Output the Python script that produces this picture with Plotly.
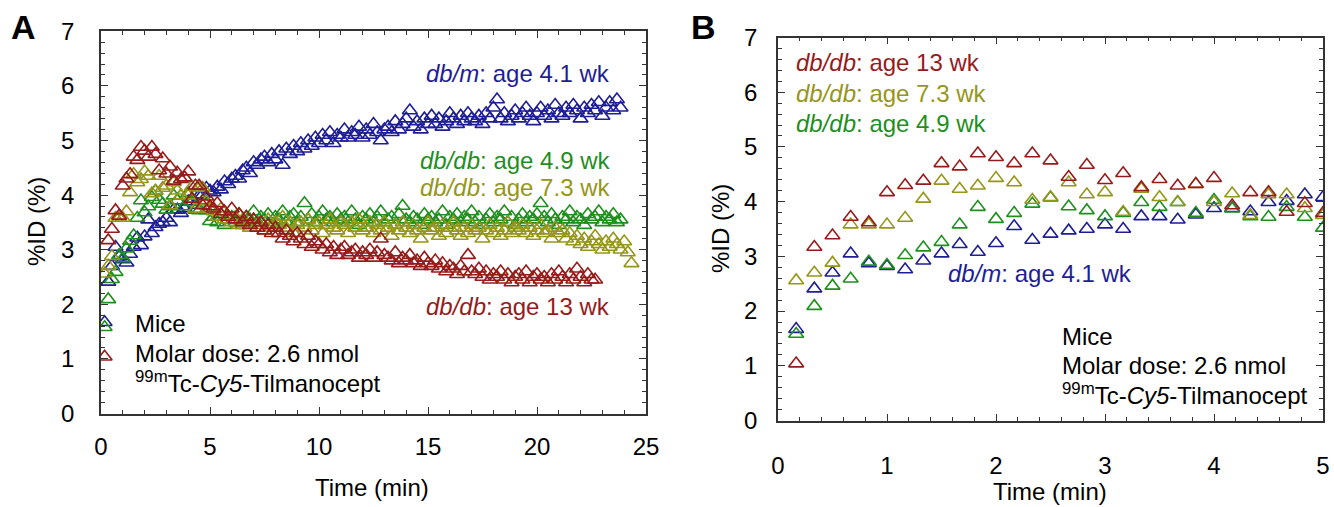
import plotly.graph_objects as go

# ---------------- data ----------------
# Panel B: first 5 min, one frame every 10 s (t = k/6 min, k = 1..30)
b_time = [k / 6 for k in range(1, 31)]
b_dbdb13 = [1.04, 3.17, 3.38, 3.72, 3.62, 4.17, 4.30, 4.38, 4.70, 4.64,
            4.88, 4.81, 4.70, 4.88, 4.75, 4.45, 4.67, 4.39, 4.52, 4.26,
            4.41, 4.29, 4.32, 4.43, 3.93, 4.17, 4.17, 3.81, 3.97, 3.79]
b_dbdb73 = [2.56, 2.70, 2.88, 3.58, 3.58, 3.58, 3.70, 4.05, 4.38, 4.23,
            4.29, 4.43, 4.35, 4.03, 4.08, 4.35, 4.13, 4.17, 3.81, 4.23,
            4.08, 3.99, 4.32, 3.99, 4.15, 3.75, 4.13, 4.13, 3.88, 3.75]
b_dbdb49 = [1.58, 2.09, 2.46, 2.59, 2.90, 2.84, 3.02, 3.16, 3.26, 3.58,
            3.90, 3.68, 3.79, 3.96, 4.07, 3.91, 3.84, 3.73, 3.79, 3.99,
            3.90, 3.99, 3.79, 4.03, 3.87, 3.73, 3.72, 3.90, 3.72, 3.52]
b_dbm41 = [1.67, 2.41, 2.70, 3.05, 2.87, 2.82, 2.76, 2.92, 3.05, 3.22,
           3.08, 3.24, 3.55, 3.30, 3.41, 3.47, 3.50, 3.58, 3.50, 3.73,
           3.73, 3.67, 3.76, 3.88, 3.88, 3.82, 3.99, 4.01, 4.13, 4.08]

# Panel A: the same acquisitions continued to ~24 min (values after 5 min)
a_dbm41_tail = [4.05, 4.15, 4.1, 4.25, 4.2, 4.3,
                4.35, 4.3, 4.45, 4.5, 4.4, 4.6,
                4.55, 4.65, 4.7, 4.6, 4.75, 4.65,
                4.8, 4.55, 4.85, 4.75, 4.9, 4.8,
                4.95, 4.85, 5.0, 4.9, 5.05, 4.95,
                5.1, 5.0, 5.15, 4.95, 5.1, 5.05,
                5.2, 5.05, 5.15, 5.1, 5.25, 5.05,
                5.2, 5.1, 5.3, 5.15, 5.0, 5.2,
                5.25, 5.15, 5.35, 5.2, 5.3, 5.4,
                5.55, 5.25, 5.35, 5.2, 5.4, 5.3,
                5.45, 5.3, 5.4, 5.25, 5.35, 5.5,
                5.4, 5.3, 5.45, 5.35, 5.5, 5.4,
                5.35, 5.45, 5.3, 5.5, 5.4, 5.6,
                5.75, 5.4, 5.5, 5.35, 5.45, 5.55,
                5.4, 5.5, 5.6, 5.45, 5.35, 5.5,
                5.6, 5.45, 5.55, 5.4, 5.65, 5.5,
                5.45, 5.6, 5.5, 5.65, 5.55, 5.4,
                5.6, 5.5, 5.65, 5.55, 5.7, 5.45,
                5.6, 5.7, 5.55, 5.75, 5.6]
a_dbdb49_tail = [3.6, 3.5, 3.65, 3.45, 3.55, 3.6,
                 3.5, 3.65, 3.45, 3.6, 3.55, 3.7,
                 3.5, 3.6, 3.55, 3.65, 3.45, 3.6,
                 3.55, 3.7, 3.5, 3.6, 3.65, 3.5,
                 3.6, 3.85, 3.55, 3.65, 3.5, 3.6,
                 3.7, 3.55, 3.6, 3.5, 3.65, 3.55,
                 3.6, 3.5, 3.7, 3.55, 3.45, 3.6,
                 3.55, 3.65, 3.5, 3.6, 3.7, 3.5,
                 3.55, 3.6, 3.45, 3.65, 3.8, 3.55,
                 3.5, 3.6, 3.55, 3.45, 3.65, 3.55,
                 3.6, 3.5, 3.55, 3.7, 3.45, 3.6,
                 3.55, 3.65, 3.5, 3.6, 3.55, 3.7,
                 3.5, 3.6, 3.45, 3.55, 3.65, 3.5,
                 3.6, 3.55, 3.7, 3.5, 3.6, 3.45,
                 3.55, 3.65, 3.5, 3.6, 3.55, 3.65,
                 3.85, 3.6, 3.5, 3.65, 3.55, 3.45,
                 3.6, 3.55, 3.7, 3.5, 3.6, 3.55,
                 3.45, 3.65, 3.55, 3.6, 3.7, 3.5,
                 3.6, 3.55, 3.65, 3.5, 3.55]
a_dbdb73_tail = [3.7, 3.6, 3.75, 3.55, 3.6, 3.5,
                 3.6, 3.45, 3.55, 3.5, 3.4, 3.55,
                 3.45, 3.5, 3.35, 3.55, 3.4, 3.5,
                 3.45, 3.6, 3.4, 3.5, 3.3, 3.45,
                 3.5, 3.4, 3.55, 3.35, 3.45, 3.5,
                 3.3, 3.45, 3.55, 3.4, 3.35, 3.5,
                 3.45, 3.3, 3.5, 3.4, 3.55, 3.35,
                 3.4, 3.5, 3.3, 3.45, 3.35, 3.5,
                 3.4, 3.25, 3.45, 3.35, 3.5, 3.4,
                 3.3, 3.45, 3.35, 3.2, 3.4, 3.5,
                 3.35, 3.4, 3.25, 3.45, 3.3, 3.4,
                 3.5, 3.35, 3.25, 3.4, 3.3, 3.45,
                 3.35, 3.4, 3.2, 3.35, 3.45, 3.3,
                 3.4, 3.25, 3.35, 3.5, 3.3, 3.4,
                 3.35, 3.45, 3.3, 3.4, 3.25, 3.35,
                 3.45, 3.3, 3.35, 3.2, 3.4, 3.3,
                 3.35, 3.2, 3.3, 3.15, 3.25, 3.1,
                 3.2, 3.05, 3.15, 3.25, 3.1, 3.0,
                 3.15, 3.05, 3.2, 3.1, 3.0, 3.15,
                 2.95, 2.75]
a_dbdb13_tail = [3.75, 3.85, 3.65, 3.7, 3.6, 3.75,
                 3.55, 3.65, 3.5, 3.6, 3.45, 3.55,
                 3.4, 3.5, 3.35, 3.45, 3.3, 3.4,
                 3.3, 3.2, 3.35, 3.25, 3.15, 3.3,
                 3.2, 3.1, 3.25, 3.05, 3.15, 3.1,
                 3.0, 3.1, 2.95, 3.05, 2.9, 3.0,
                 3.05, 2.9, 2.95, 3.0, 2.85, 2.95,
                 2.9, 3.0, 2.85, 2.95, 3.2, 2.9,
                 2.85, 2.8, 2.95, 2.75, 2.85, 2.8,
                 2.9, 2.75, 2.8, 2.7, 2.85, 2.75,
                 2.7, 2.8, 2.65, 2.75, 2.6, 2.7,
                 2.65, 2.55, 2.7, 2.6, 2.9, 2.6,
                 2.55, 2.65, 2.5, 2.6, 2.45, 2.55,
                 2.5, 2.6, 2.45, 2.55, 2.4, 2.5,
                 2.55, 2.45, 2.6, 2.4, 2.5, 2.55,
                 2.45, 2.5, 2.4, 2.55, 2.45, 2.6,
                 2.5, 2.4, 2.55, 2.45, 2.65, 2.5,
                 2.4, 2.55, 2.45, 2.45]

a_dbm41 = b_dbm41 + a_dbm41_tail
a_dbdb49 = b_dbdb49 + a_dbdb49_tail
a_dbdb73 = b_dbdb73 + a_dbdb73_tail
a_dbdb13 = b_dbdb13 + a_dbdb13_tail

def times(n):
    return [k / 6 for k in range(1, n + 1)]

# ---------------- style ----------------
W, H = 1334, 507
FONT = "Arial, Liberation Sans, sans-serif"
FS = 24
C_BLUE = "#1e1e96"
C_GREEN = "#1f8f1f"
C_OLIVE = "#96961a"
C_RED = "#961c1c"
AXC = "#333333"

def px(x):
    return x / W

def py(y):
    return 1 - y / H

fig = go.Figure()

series = [
    ("db/m 4.1 wk", a_dbm41, b_dbm41, C_BLUE),
    ("db/db 4.9 wk", a_dbdb49, b_dbdb49, C_GREEN),
    ("db/db 7.3 wk", a_dbdb73, b_dbdb73, C_OLIVE),
    ("db/db 13 wk", a_dbdb13, b_dbdb13, C_RED),
]
for name, ya, yb, col in series:
    mk = dict(symbol="triangle-up-open", size=13, color=col, line=dict(width=1.6, color=col))
    fig.add_trace(go.Scatter(x=times(len(ya)), y=ya, mode="markers", marker=mk,
                             name=name, showlegend=False, xaxis="x", yaxis="y"))
    fig.add_trace(go.Scatter(x=b_time, y=yb, mode="markers", marker=mk,
                             name=name, showlegend=False, xaxis="x2", yaxis="y2"))

def axis_common():
    return dict(showline=True, linecolor=AXC, linewidth=1.5, mirror="allticks",
                ticks="inside", ticklen=7, tickwidth=1.2, tickcolor=AXC,
                showgrid=False, zeroline=False, automargin=False,
                tickfont=dict(family=FONT, size=FS, color="#000"))

xa = axis_common()
xa.update(domain=[px(101), px(646)], range=[0, 25], dtick=5, tick0=0,
          anchor="y", ticklabelstandoff=11,
          minor=dict(dtick=1, ticks="inside", ticklen=4, tickcolor=AXC, tickwidth=1))
ya_ = axis_common()
ya_.update(domain=[py(413.5), py(31.3)], range=[0, 7], dtick=1, tick0=0,
           anchor="x", ticklabelstandoff=20,
           minor=dict(dtick=0.2, ticks="inside", ticklen=4, tickcolor=AXC, tickwidth=1))
xb = axis_common()
xb.update(domain=[px(778), px(1323)], range=[0, 5], dtick=1, tick0=0,
          anchor="y2", ticklabelstandoff=23,
          minor=dict(dtick=0.2, ticks="inside", ticklen=4, tickcolor=AXC, tickwidth=1))
yb_ = axis_common()
yb_.update(domain=[py(420.5), py(37.5)], range=[0, 7], dtick=1, tick0=0,
           anchor="x2", ticklabelstandoff=14,
           minor=dict(dtick=0.2, ticks="inside", ticklen=4, tickcolor=AXC, tickwidth=1))

annotations = []

def ann(text, x, y, color="#000", xanchor="left", size=FS, **kw):
    d = dict(text=text, x=px(x), y=py(y), xref="paper", yref="paper",
             xanchor=xanchor, yanchor="middle", showarrow=False,
             font=dict(family=FONT, size=size, color=color))
    d.update(kw)
    annotations.append(d)

# panel letters
ann("<b>A</b>", 24, 27, size=34, xanchor="center")
ann("<b>B</b>", 703, 27, size=34, xanchor="center")

# axis titles
ann("%ID (%)", 36, 222, xanchor="center", textangle=-90)
ann("%ID (%)", 720, 229, xanchor="center", textangle=-90)
ann("Time (min)", 372, 487, xanchor="center")
ann("Time (min)", 1050, 491, xanchor="center")

# panel A labels
ann("<i>db/m</i>: age 4.1 wk", 612, 74, color=C_BLUE, xanchor="right")
ann("<i>db/db</i>: age 4.9 wk", 612, 160, color=C_GREEN, xanchor="right")
ann("<i>db/db</i>: age 7.3 wk", 612, 187, color=C_OLIVE, xanchor="right")
ann("<i>db/db</i>: age 13 wk", 612, 306, color=C_RED, xanchor="right")
ann("Mice", 133, 323)
ann("Molar dose: 2.6 nmol", 133, 353)
ann("<sup>99m</sup>Tc-<i>Cy5</i>-Tilmanocept", 133, 382)

# panel B labels
ann("<i>db/db</i>: age 13 wk", 794, 63, color=C_RED)
ann("<i>db/db</i>: age 7.3 wk", 794, 93, color=C_OLIVE)
ann("<i>db/db</i>: age 4.9 wk", 794, 123, color=C_GREEN)
ann("<i>db/m</i>: age 4.1 wk", 946, 273, color=C_BLUE)
ann("Mice", 1060, 336)
ann("Molar dose: 2.6 nmol", 1060, 365)
ann("<sup>99m</sup>Tc-<i>Cy5</i>-Tilmanocept", 1060, 394)

fig.update_layout(
    width=W, height=H,
    margin=dict(l=0, r=0, t=0, b=0, pad=0, autoexpand=False),
    paper_bgcolor="white", plot_bgcolor="white",
    xaxis=xa, yaxis=ya_, xaxis2=xb, yaxis2=yb_,
    annotations=annotations, showlegend=False,
    font=dict(family=FONT, size=FS, color="#000"),
)

fig.write_html("out.html")
